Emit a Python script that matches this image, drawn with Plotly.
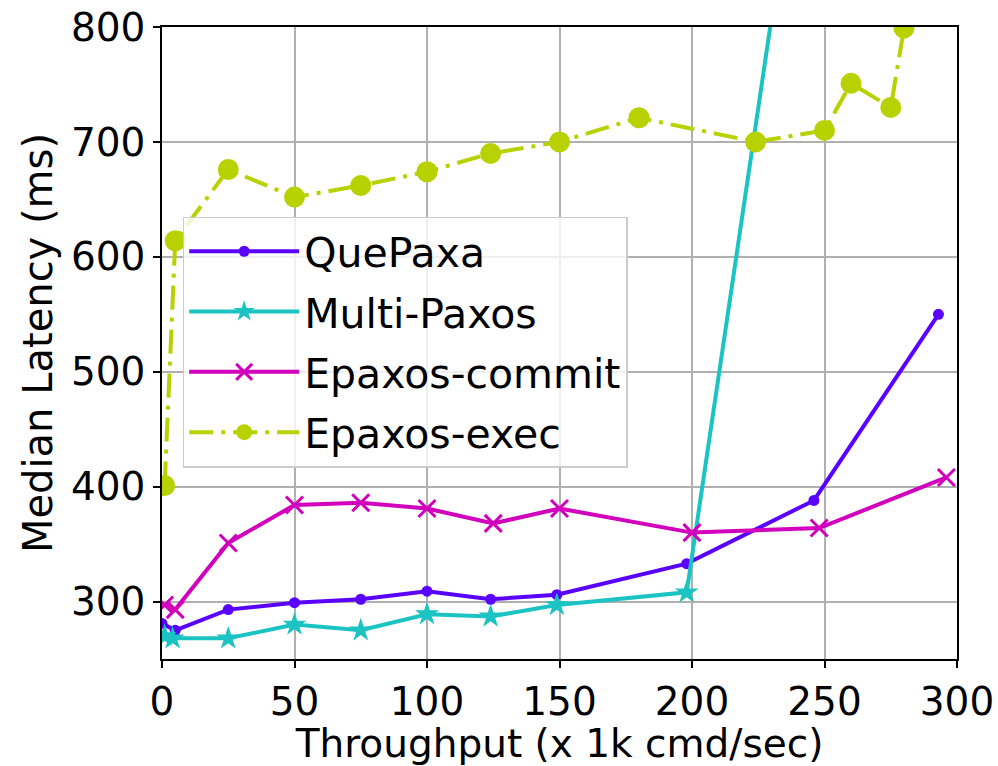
import plotly.graph_objects as go

# Data (throughput in 1k cmd/sec, median latency in ms)
quepaxa_x = [0, 5, 25, 50, 75, 100, 124, 149, 198, 246, 293]
quepaxa_y = [281, 275, 293, 299, 302, 309, 302, 306, 333, 388, 550]

multipaxos_x = [1, 4, 25, 50, 75, 100, 124, 149, 198, 250]
multipaxos_y = [270, 268, 268, 280, 275, 289, 287, 297, 308, 1120]

commit_x = [1, 5, 25, 50, 75, 100, 125, 150, 200, 248, 296]
commit_y = [297, 293, 351, 384, 386, 381, 368, 381, 360, 364, 408]

exec_x = [1, 5, 25, 50, 75, 100, 124, 150, 180, 224, 250, 260, 275, 280]
exec_y = [401, 614, 676, 652, 662, 674, 690, 700, 721, 700, 710, 751, 730, 799]

x_ticks = [0, 50, 100, 150, 200, 250, 300]
y_ticks = [300, 400, 500, 600, 700, 800]

FONT = "DejaVu Sans"

fig = go.Figure()
fig.add_trace(go.Scatter(
    x=quepaxa_x, y=quepaxa_y, name="QuePaxa", mode="lines+markers",
    legendgroup="a",
    line=dict(color="#5a00ff", width=4),
    marker=dict(symbol="circle", size=11, color="#5a00ff"),
))
fig.add_trace(go.Scatter(
    x=multipaxos_x, y=multipaxos_y, name="Multi-Paxos", mode="lines+markers",
    legendgroup="b",
    line=dict(color="#1cc3c3", width=4),
    marker=dict(symbol="star", size=18, color="#1cc3c3"),
))
fig.add_trace(go.Scatter(
    x=commit_x, y=commit_y, name="Epaxos-commit", mode="lines+markers",
    legendgroup="c",
    line=dict(color="#d200bd", width=4),
    marker=dict(symbol="x-thin", size=17, color="#d200bd",
                line=dict(color="#d200bd", width=3)),
))
fig.add_trace(go.Scatter(
    x=exec_x, y=exec_y, name="Epaxos-exec", mode="lines+markers",
    legendgroup="d",
    line=dict(color="#b7d200", width=4, dash="24px,8px,4px,8px"),
    marker=dict(symbol="circle", size=21, color="#b7d200"),
))

axis_common = dict(
    showline=True, linecolor="black", linewidth=1.5, mirror=True,
    showgrid=True, gridcolor="#b0b0b0", gridwidth=1.5,
    ticks="outside", ticklen=7, tickwidth=1.5, tickcolor="black",
    tickfont=dict(family=FONT, size=39, color="black"),
    zeroline=False, automargin=False,
)

fig.update_xaxes(
    range=[0, 300], tickvals=x_ticks,
    title=dict(text="Throughput (x 1k cmd/sec)", font=dict(family=FONT, size=39, color="black"), standoff=4),
    **axis_common,
)
fig.update_yaxes(
    range=[250, 800], tickvals=y_ticks,
    title=dict(text="Median Latency (ms)", font=dict(family=FONT, size=40, color="black"), standoff=6),
    **axis_common,
)

fig.update_layout(
    width=998, height=766,
    margin=dict(l=162, r=41, t=27, b=107),
    plot_bgcolor="white", paper_bgcolor="white",
    font=dict(family=FONT, color="black"),
    legend=dict(
        x=0.026, y=0.70, xanchor="left", yanchor="top",
        bgcolor="rgba(255,255,255,0.8)", bordercolor="#cccccc", borderwidth=1.5,
        font=dict(family=FONT, size=41, color="black"),
        itemwidth=110, tracegroupgap=4,
    ),
    showlegend=True,
)

fig.write_html("out.html")
